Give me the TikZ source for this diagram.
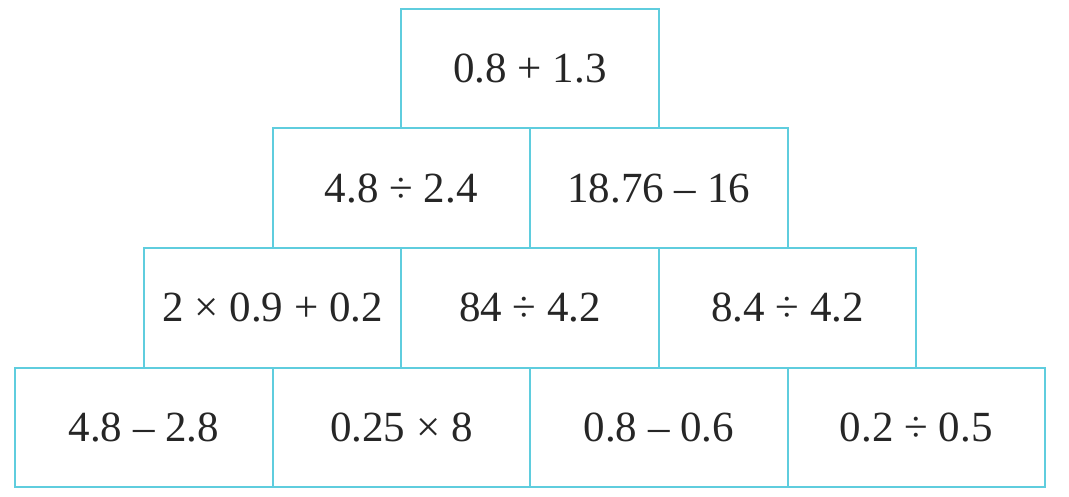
\documentclass[tikz,border=0pt]{standalone}
\usepackage{fontspec}
\setmainfont{Liberation Serif}
\usepackage{tikz}
\definecolor{boxline}{RGB}{95,205,222}
\tikzset{
 cell/.style={draw=boxline, line width=2pt, minimum width=257.5pt, minimum height=119.5pt,
   inner sep=0pt, outer sep=0pt, font=\fontsize{43}{50}\selectfont, text=black!85}
}
\begin{document}
\begin{tikzpicture}[x=1pt,y=-1pt]
 \useasboundingbox (0,0) rectangle (1069,497); % 枠

 % 1段目（上）
 \node[cell] (t1) at (530,68.75) {0.8 + 1.3};

 % 2段目
 \node[cell] (s1) at (401.25,188.25) {4.8 ÷ 2.4};
 \node[cell] (s2) at (658.75,188.25) {18.76 – 16};

 % 3段目
 \node[cell] (m1) at (272.5,307.75) {2 × 0.9 + 0.2};
 \node[cell] (m2) at (530,307.75) {84 ÷ 4.2};
 \node[cell] (m3) at (787.5,307.75) {8.4 ÷ 4.2};

 % 4段目（下）
 \node[cell] (b1) at (143.75,427.25) {4.8 – 2.8};
 \node[cell] (b2) at (401.25,427.25) {0.25 × 8};
 \node[cell] (b3) at (658.75,427.25) {0.8 – 0.6};
 \node[cell] (b4) at (916.25,427.25) {0.2 ÷ 0.5};
\end{tikzpicture}
\end{document}
